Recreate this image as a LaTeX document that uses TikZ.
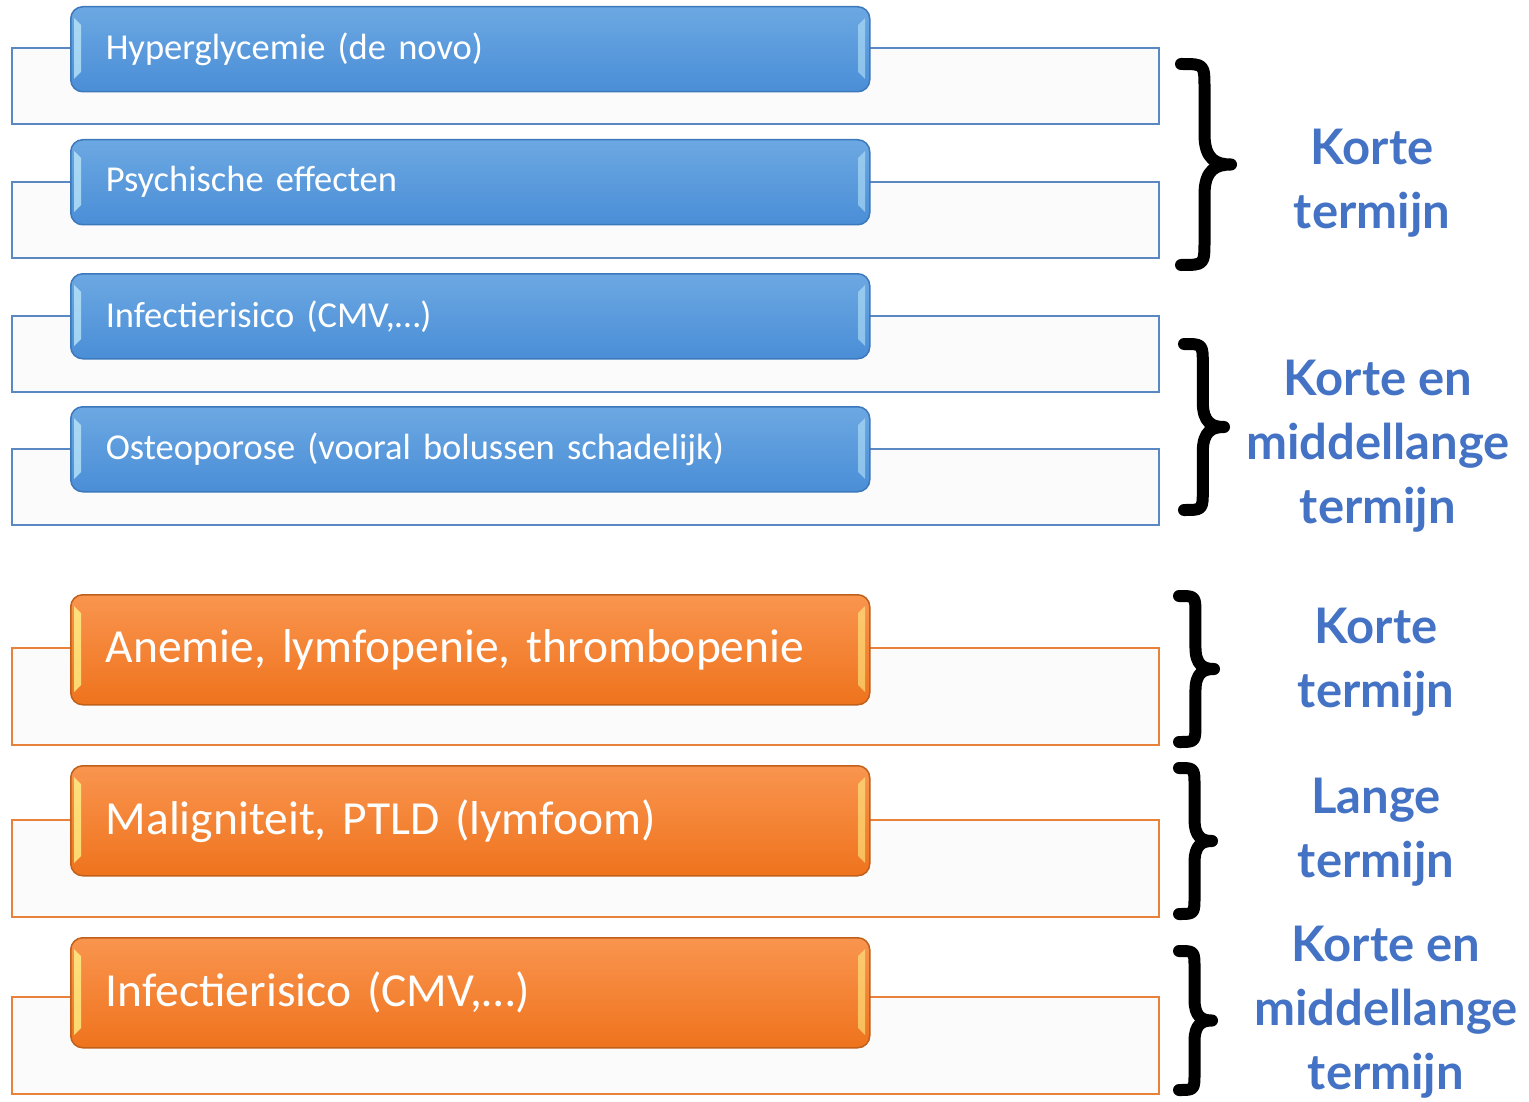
\documentclass[tikz,border=0pt]{standalone}
\usepackage{fontspec}
\setmainfont{Carlito}[WordSpace=0.7]
\newfontfamily\lblfont{Lato}
\definecolor{bluetop}{HTML}{6CA8E2}
\definecolor{bluebot}{HTML}{4A8ED7}
\definecolor{blueedge}{HTML}{3C78BC}
\definecolor{bluefr}{HTML}{5A88C2}
\definecolor{orgtop}{HTML}{F9954F}
\definecolor{orgbot}{HTML}{EF731D}
\definecolor{orgedge}{HTML}{C0601A}
\definecolor{orgfr}{HTML}{E8823A}
\definecolor{lblblue}{HTML}{4472C4}
\definecolor{framefill}{HTML}{FBFBFB}
\tikzset{
  frameb/.style={draw=bluefr, line width=2pt, fill=framefill, rectangle, minimum width=1147pt, minimum height=76pt, anchor=north west, inner sep=0pt},
  frameo/.style={draw=orgfr, line width=2pt, fill=framefill, rectangle, minimum width=1147pt, minimum height=97pt, anchor=north west, inner sep=0pt},
  boxb/.style={draw=blueedge, line width=1.5pt, rounded corners=12pt, top color=bluetop, bottom color=bluebot, minimum width=799pt, minimum height=85pt, text width=729pt, inner xsep=35pt, inner ysep=0pt, align=left, text=white, font=\fontsize{36.5}{40}\selectfont, anchor=north west},
  boxo/.style={draw=orgedge, line width=1.5pt, rounded corners=12pt, top color=orgtop, bottom color=orgbot, minimum width=799pt, minimum height=110pt, text width=729pt, inner xsep=35pt, inner ysep=0pt, align=left, text=white, font=\fontsize{47.5}{50}\selectfont, anchor=north west},
  bracestyle/.style={draw=black, line width=12pt, line cap=round, line join=round},
  lbl/.style={text=lblblue, align=center, font=\lblfont\bfseries\fontsize{49}{64}\selectfont, inner sep=0pt}
}
\newcommand\mybrace[4]{%
  \pgfmathsetmacro\bm{(#2+#3)/2}%
  \pgfmathsetmacro\bs{#1+0.47*(#4-#1)}%
  \pgfmathsetmacro\bh{(#3-#2)/2}%
  \pgfmathsetmacro\bw{#4-#1}%
  \draw[bracestyle] ({#1},{#2}) .. controls ({\bs},{#2}) and ({\bs},{#2}) .. ({\bs},{#2+0.25*\bh})
    -- ({\bs},{\bm-0.3*\bh})
    .. controls ({\bs},{\bm-0.05*\bh}) and ({#4-0.3*\bw},{\bm}) .. ({#4},{\bm})
    .. controls ({#4-0.3*\bw},{\bm}) and ({\bs},{\bm+0.05*\bh}) .. ({\bs},{\bm+0.3*\bh})
    -- ({\bs},{#3-0.25*\bh})
    .. controls ({\bs},{#3}) and ({\bs},{#3}) .. ({#1},{#3});%
}
\newcommand\bevel[3]{% top, height, colour
  \fill[#3, opacity=0.75] (74,{#1+12}) -- (81,{#1+19}) -- (81,{#1+#2-19}) -- (74,{#1+#2-12}) -- cycle;
  \fill[#3, opacity=0.55] (865,{#1+12}) -- (858,{#1+19}) -- (858,{#1+#2-19}) -- (865,{#1+#2-12}) -- cycle;
}
\begin{document}
\begin{tikzpicture}[x=1pt, y=-1pt]
\useasboundingbox[fill=white] (0,0) rectangle (1529,1102);
% frames
\node[frameb] (f1) at (11,47) {};
\node[frameb] (f2) at (11,181) {};
\node[frameb] (f3) at (11,315) {};
\node[frameb] (f4) at (11,448) {};
\node[frameo] (f5) at (11,647) {};
\node[frameo] (f6) at (11,819) {};
\node[frameo] (f7) at (11,996) {};
% boxes
\node[boxb] (b1) at (70,6) {Hyperglycemie (de novo)};
\node[boxb] (b2) at (70,139) {Psychische effecten};
\node[boxb] (b3) at (70,273) {Infectierisico (CMV,\dots)};
\node[boxb] (b4) at (70,406) {Osteoporose (vooral bolussen schadelijk)};
\node[boxo] (b5) at (70,594) {Anemie, lymfopenie, thrombopenie};
\node[boxo] (b6) at (70,765) {Maligniteit, PTLD (lymfoom)};
\node[boxo] (b7) at (70,937) {Infectierisico (CMV,\dots)};
% bevels
\bevel{6}{85}{cyan!25!white}
\bevel{139}{85}{cyan!25!white}
\bevel{273}{85}{cyan!25!white}
\bevel{406}{85}{cyan!25!white}
\bevel{594}{110}{yellow!45!white}
\bevel{765}{110}{yellow!45!white}
\bevel{937}{110}{yellow!45!white}
% braces
\mybrace{1181}{64}{265}{1231}
\mybrace{1184}{344}{510}{1224}
\mybrace{1179}{596}{742}{1214}
\mybrace{1179}{768}{914}{1212}
\mybrace{1179}{951}{1090}{1212}
% labels
\node[lbl] (l1) at (1372,183) {Korte\\termijn};
\node[lbl] (l2) at (1378,446) {Korte en\\middellange\\termijn};
\node[lbl] (l3) at (1376,662) {Korte\\termijn};
\node[lbl] (l4) at (1376,832) {Lange\\termijn};
\node[lbl] (l5) at (1386,1012) {Korte en\\middellange\\termijn};
\end{tikzpicture}
\end{document}
